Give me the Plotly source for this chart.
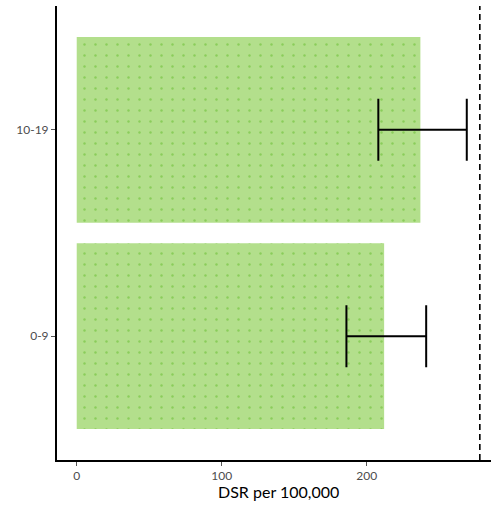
import plotly.graph_objects as go

# Age bands and directly standardised rates (per 100,000) with 95% CIs
age_bands = ["0-9", "10-19"]
dsr = [212, 237]
ci_lower = [186, 208]
ci_upper = [241, 269]
reference_rate = 278

x_ticks = [0, 100, 200]

err_plus = [u - v for u, v in zip(ci_upper, dsr)]
err_minus = [v - l for v, l in zip(dsr, ci_lower)]

fig = go.Figure()

fig.add_trace(go.Bar(
    y=age_bands,
    x=dsr,
    orientation="h",
    width=0.9,
    marker=dict(
        color="#b3df8c",
        line=dict(width=0),
        pattern=dict(shape=".", fgcolor="#8acd5a", bgcolor="#b3df8c",
                     size=11, solidity=0.04, fillmode="replace"),
    ),
    error_x=dict(
        type="data",
        symmetric=False,
        array=err_plus,
        arrayminus=err_minus,
        color="black",
        thickness=2,
        width=31,
    ),
    hoverinfo="skip",
))

# Dashed reference rate
fig.add_shape(
    type="line", xref="x", yref="paper",
    x0=reference_rate, x1=reference_rate, y0=0, y1=1,
    line=dict(color="black", width=1.6, dash="6px,4px"),
)

fig.add_annotation(
    text="DSR per 100,000", xref="x", yref="paper",
    x=139, y=-0.069, yanchor="middle", xanchor="center", showarrow=False,
    font=dict(family="Lato, sans-serif", size=16, color="black"),
)

fig.update_layout(
    width=491, height=506,
    margin=dict(l=57, r=0, t=6, b=46),
    paper_bgcolor="white",
    plot_bgcolor="white",
    showlegend=False,
    font=dict(family="Lato, sans-serif"),
    xaxis=dict(
        range=[-13.6, 285.7],
        tickvals=x_ticks,
        ticktext=[str(t) for t in x_ticks],
        showgrid=False, zeroline=False,
        showline=True, linecolor="black", linewidth=2,
        ticks="outside", ticklen=4, tickwidth=1, tickcolor="#555555",
        tickfont=dict(size=12, color="#4d4d4d"),
    ),
    yaxis=dict(
        range=[-0.6, 1.6],
        showgrid=False, zeroline=False,
        showline=True, linecolor="black", linewidth=2,
        ticks="outside", ticklen=4, tickwidth=1, tickcolor="#555555",
        tickfont=dict(size=12, color="#4d4d4d"),
    ),
)

fig.write_html("out.html")
